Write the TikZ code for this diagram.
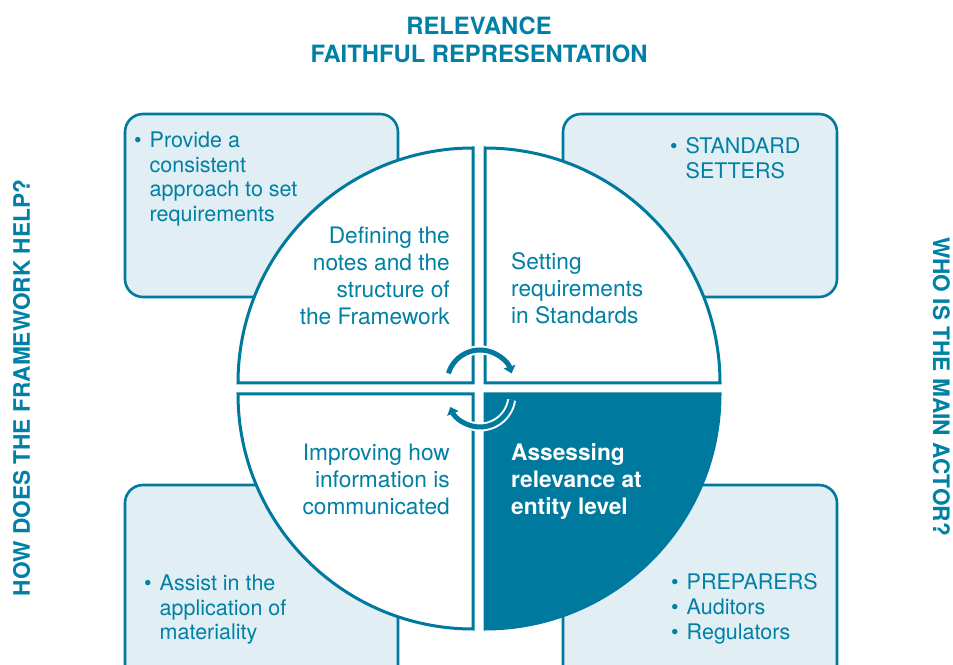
\documentclass[tikz,border=0pt]{standalone}
\usepackage{fontspec}
\setmainfont{TeX Gyre Heros}
\usetikzlibrary{arrows.meta}
\definecolor{ifrsteal}{RGB}{0,121,158}
\definecolor{ifrstext}{RGB}{0,128,165}
\definecolor{boxfill}{RGB}{225,238,244}
\begin{document}
\begin{tikzpicture}[x=1pt,y=1pt,
        infobox/.style={draw=ifrsteal, line width=2.6pt, fill=boxfill, rounded corners=18pt},
        quadrant/.style={draw=ifrsteal, line width=3pt, fill=white},
        qtext/.style={inner sep=0pt, text=ifrstext, font=\fontsize{22.7}{27}\selectfont},
        btext/.style={inner sep=0pt, text=ifrstext, font=\fontsize{21.5}{24.5}\selectfont},
        htext/.style={inner sep=0pt, text=ifrstext, font=\bfseries\fontsize{23.8}{28}\selectfont},
        sidetext/.style={inner sep=0pt, text=ifrstext, font=\bfseries\fontsize{22.7}{27}\selectfont},
        cyclehalo/.style={line width=9pt, white, shorten >=6pt},
        cycleline/.style={line width=5pt, ifrsteal, -{Triangle[length=7pt,width=12pt]}}]
        \useasboundingbox (0,0) rectangle (953,664);
        % boxes behind the circle
        \draw [infobox] (125,367) rectangle (398,550);
        \draw [infobox] (563,367) rectangle (837,550);
        \draw [infobox] (125,-20) rectangle (398,179);
        \draw [infobox] (563,-20) rectangle (837,179);
        % the four quarters
        \draw [quadrant] (473,281) -- (238,281) arc [start angle=180, end angle=90, radius=235] -- cycle;
        \draw [quadrant] (485,281) -- (485,516) arc [start angle=90, end angle=0, radius=235] -- cycle;
        \draw [quadrant] (473,270) -- (473,35) arc [start angle=270, end angle=180, radius=235] -- cycle;
        \draw [quadrant, fill=ifrsteal] (485,270) -- (720,270) arc [start angle=0, end angle=-90, radius=235] -- cycle;
        % cycle arrows
        \coordinate (hubtop) at (480,281);
        \coordinate (hubbot) at (480,269);
        \draw [cyclehalo] (hubtop) ++(163:33) arc [start angle=163, end angle=17, radius=33];
        \draw [cycleline] (hubtop) ++(163:33) arc [start angle=163, end angle=17, radius=33];
        \draw [cyclehalo] (hubbot) ++(-9:32) arc [start angle=-9, end angle=-158, radius=32];
        \draw [cycleline] (hubbot) ++(-9:32) arc [start angle=-9, end angle=-158, radius=32];
        % headings
        \node [htext, anchor=base] (title) at (479,629) {\begin{tabular}[t]{@{}c@{}}RELEVANCE\\FAITHFUL REPRESENTATION\end{tabular}};
        \node [sidetext, rotate=90] (howhelp) at (21.5,276) {HOW DOES THE FRAMEWORK HELP?};
        \node [sidetext, rotate=-90] (mainactor) at (941.5,277.5) {WHO IS THE MAIN ACTOR?};
        % quarter texts
        \node [qtext, anchor=base east] (defining) at (450,420) {\begin{tabular}[t]{@{}r@{}}Defining the\\notes and the\\structure of\\the Framework\end{tabular}};
        \node [qtext, anchor=base west] (setting) at (511,394) {\begin{tabular}[t]{@{}l@{}}Setting\\requirements\\in Standards\end{tabular}};
        \node [qtext, anchor=base east] (improving) at (450,203) {\begin{tabular}[t]{@{}r@{}}Improving how\\information is\\communicated\end{tabular}};
        \node [qtext, anchor=base west, text=white, font=\bfseries\fontsize{22.7}{27}\selectfont] (assessing) at (511,203) {\begin{tabular}[t]{@{}l@{}}Assessing\\relevance at\\entity level\end{tabular}};
        % box texts
        \node [btext, anchor=base west] (provide) at (134,516) {\begin{tabular}[t]{@{}l@{\hspace{8pt}}l@{}}\textbullet & Provide a\\ & consistent\\ & approach to set\\ & requirements\end{tabular}};
        \node [btext, anchor=base west] (setters) at (670,510) {\begin{tabular}[t]{@{}l@{\hspace{8pt}}l@{}}\textbullet & STANDARD\\ & SETTERS\end{tabular}};
        \node [btext, anchor=base west] (assist) at (144,73) {\begin{tabular}[t]{@{}l@{\hspace{8pt}}l@{}}\textbullet & Assist in the\\ & application of\\ & materiality\end{tabular}};
        \node [btext, anchor=base west] (preparers) at (671,74) {\begin{tabular}[t]{@{}l@{\hspace{8pt}}l@{}}\textbullet & PREPARERS\\\textbullet & Auditors\\\textbullet & Regulators\end{tabular}};
\end{tikzpicture}
\end{document}
